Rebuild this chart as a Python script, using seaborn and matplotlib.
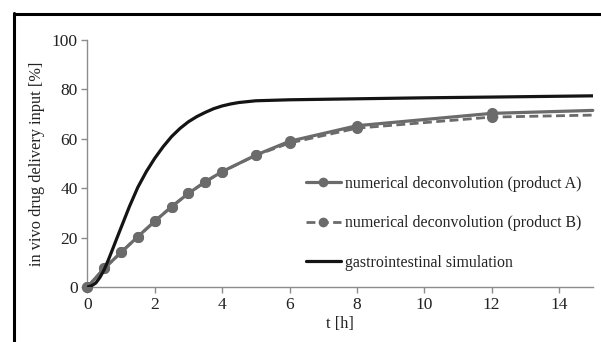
import numpy as np
import pandas as pd
import matplotlib
matplotlib.use("Agg")
import matplotlib.pyplot as plt
from matplotlib.lines import Line2D
import seaborn as sns

# ---- data ----
t_deconv = [0, 0.5, 1, 1.5, 2, 2.5, 3, 3.5, 4, 5, 6, 8, 12, 15]
product_a = [0, 7.5, 14.0, 20.4, 26.6, 32.5, 37.9, 42.6, 46.7, 53.4, 59.0, 65.3, 70.3, 71.5]
product_b = [0, 7.5, 14.0, 20.4, 26.6, 32.5, 37.9, 42.6, 46.7, 53.3, 58.3, 64.3, 68.8, 69.6]

t_gi = [0, 0.125, 0.25, 0.375, 0.5, 0.625, 0.75, 0.875, 1, 1.25, 1.5, 1.75, 2, 2.25, 2.5,
        2.75, 3, 3.25, 3.5, 3.75, 4, 4.25, 4.5, 5, 6, 8, 10, 12, 15]
gi_sim = [0, 0.5, 1.6, 3.9, 7.0, 11.0, 15.3, 19.7, 24.0, 32.6, 40.4, 46.7, 52.1, 56.8, 60.9,
          64.2, 66.9, 69.0, 70.7, 72.2, 73.3, 74.1, 74.7, 75.4, 75.8, 76.2, 76.6, 76.9, 77.4]

x_ticks = [0, 2, 4, 6, 8, 10, 12, 14]
y_ticks = [0, 20, 40, 60, 80, 100]

labels = ["numerical deconvolution (product A)",
          "numerical deconvolution (product B)",
          "gastrointestinal simulation"]

df_a = pd.DataFrame({"t": t_deconv, "v": product_a})
df_b = pd.DataFrame({"t": t_deconv, "v": product_b})
df_gi = pd.DataFrame({"t": t_gi, "v": gi_sim})

sns.set_theme(style="white")
plt.rcParams["font.family"] = ["Liberation Serif", "DejaVu Serif"]

gray = "#6b6b6b"
black = "#141414"
axis_gray = "#8c8c8c"
txt_col = "#222222"

fig = plt.figure(figsize=(6.01, 3.42), dpi=100)
ax = fig.add_axes([0.1453, 0.1608, 0.8410, 0.7222])

mk_idx = list(range(len(t_deconv) - 1))
sns.lineplot(data=df_b, x="t", y="v", ax=ax, color=gray, lw=2.0, linestyle=(0, (3.2, 1.6)),
             marker="o", markersize=8, markevery=mk_idx, markeredgewidth=0,
             clip_on=False, zorder=3, estimator=None, sort=False)
sns.lineplot(data=df_a, x="t", y="v", ax=ax, color=gray, lw=2.3,
             marker="o", markersize=8, markevery=mk_idx, markeredgewidth=0,
             clip_on=False, zorder=4, estimator=None, sort=False)
sns.lineplot(data=df_gi, x="t", y="v", ax=ax, color=black, lw=2.3, zorder=5,
             estimator=None, sort=False)

ax.set_xlim(0, 15)
ax.set_ylim(0, 100)
ax.set_xticks(x_ticks)
ax.set_yticks(y_ticks)
ax.set_xlabel("t [h]", fontsize=11.8, color=txt_col, labelpad=2)
ax.set_ylabel("in vivo drug delivery input [%]", fontsize=11.8, color=txt_col, labelpad=5)

for s in ["top", "right"]:
    ax.spines[s].set_visible(False)
for s in ["left", "bottom"]:
    ax.spines[s].set_color(axis_gray)
    ax.spines[s].set_linewidth(1.0)
ax.tick_params(axis="both", which="major", direction="out", length=4, width=1,
               color=axis_gray, labelsize=12.5, labelcolor=txt_col, pad=3)
ax.tick_params(axis="x", bottom=True)
ax.tick_params(axis="y", left=True)

handles = [
    Line2D([0, 0.5, 1], [0, 0, 0], color=gray, lw=2.3, marker="o", markersize=7,
           markeredgewidth=0, markevery=[1]),
    Line2D([0, 0.5, 1], [0, 0, 0], color=gray, lw=2.0, linestyle=(0, (3.2, 1.6)),
           marker="o", markersize=7, markeredgewidth=0, markevery=[1]),
    Line2D([], [], color=black, lw=2.3),
]
leg = ax.legend(handles=handles, labels=labels, loc="center left",
                bbox_to_anchor=(0.432, 0.258), frameon=False, fontsize=11.4,
                handlelength=2.2, handletextpad=0.3, labelspacing=1.5,
                borderpad=0, borderaxespad=0)
for txt in leg.get_texts():
    txt.set_color(txt_col)

# outer frame (top and left edges of the cropped figure border)
fig.add_artist(Line2D([13.5 / 601, 1.0], [1 - 13.5 / 342, 1 - 13.5 / 342],
                      transform=fig.transFigure, color="black", lw=2.2))
fig.add_artist(Line2D([13.5 / 601, 13.5 / 601], [0, 1 - 12.5 / 342],
                      transform=fig.transFigure, color="black", lw=2.2))

fig.savefig("out.png", dpi=100)
